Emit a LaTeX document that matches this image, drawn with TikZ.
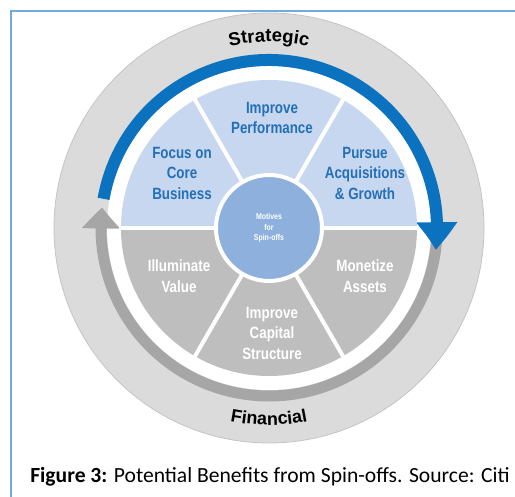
\documentclass[tikz,border=0pt]{standalone}
\usepackage{fontspec}
\setmainfont{Liberation Sans}
\newfontfamily\wheelfont{Liberation Sans}[FakeStretch=0.82]
\newfontfamily\capfont{Carlito}
\usepackage{tikz}
\usetikzlibrary{arrows.meta, bending, positioning, decorations.text}

\definecolor{ringgray}{HTML}{DBDBDB}
\definecolor{ringedge}{HTML}{C4C4C4}
\definecolor{paleblue}{HTML}{C6D7EF}
\definecolor{lblblue}{HTML}{2470B8}
\definecolor{midblue}{HTML}{8DB0DD}
\definecolor{wedgegray}{HTML}{BEBEBE}
\definecolor{arrowblue}{HTML}{0B72BF}
\definecolor{arrowgray}{HTML}{A6A6A6}
\definecolor{framecol}{HTML}{74A9E0}

\begin{document}
\begin{tikzpicture}[x=1pt, y=1pt,
    bluelbl/.style={align=center, text=lblblue, font=\wheelfont\bfseries\fontsize{16.3}{20.5}\selectfont},
    graylbl/.style={align=center, text=white, font=\wheelfont\bfseries\fontsize{16.3}{20.5}\selectfont},
    cut/.style={white, line width=4pt}]
    \useasboundingbox (-269,-269) rectangle (246,228);

    % outer ring and white inside
    \fill[ringgray, draw=ringedge, line width=0.8pt] (0,0) circle (215pt);
    \fill[white] (0,0) circle (162pt);

    % the two arrows round the wheel
    \draw[arrowgray, line width=11pt, -{Triangle[width=37pt,length=21pt,bend]}]
        (-3:168pt) arc[start angle=-3, end angle=-187, radius=168pt];
    \draw[arrowblue, line width=12pt, -{Triangle[width=39pt,length=28pt,bend]}]
        (170:168pt) arc[start angle=170, end angle=-7.5, radius=168pt];

    % pie
    \fill[paleblue] (0,0) -- (0:148pt) arc[start angle=0, end angle=180, radius=148pt] -- cycle;
    \fill[wedgegray] (0,0) -- (180:148pt) arc[start angle=180, end angle=360, radius=148pt] -- cycle;
    \draw[cut] (180:150pt) -- (0:150pt);
    \foreach \a in {60,120,240,300}
        \draw[cut] (0,0) -- (\a:150pt);

    \node[circle, fill=midblue, draw=white, line width=4pt, minimum size=106pt, align=center,
          text=white, font=\wheelfont\bfseries\fontsize{8.5}{10.5}\selectfont] (motives) at (0,0)
          {Motives\\for\\Spin-offs};

    \node[bluelbl] (perf) at (3,110) {Improve\\Performance};
    \node[bluelbl] (core) at (-87,55) {Focus on\\Core\\Business};
    \node[bluelbl] (acq) at (96,55) {Pursue\\Acquisitions\\\& Growth};
    \node[graylbl] (value) at (-90,-48) {Illuminate\\Value};
    \node[graylbl] (assets) at (96,-48) {Monetize\\Assets};
    \node[graylbl] (capital) at (3,-105) {Improve\\Capital\\Structure};

    % curved headings
    \path[decorate, decoration={text along path, text align=center,
          text={|\fontsize{18.5}{20}\selectfont\bfseries|Strategic}}]
        (150:186pt) arc[start angle=150, end angle=30, radius=186pt];
    \path[decorate, decoration={text along path, text align=center,
          text={|\fontsize{18}{20}\selectfont\bfseries|Financial}}]
        (230:197pt) arc[start angle=230, end angle=310, radius=197pt];

    \node[anchor=base, font=\capfont\fontsize{21.6}{26}\selectfont] (caption) at (1,-255)
        {\textbf{Figure 3:} Potential Benefits from Spin-offs. Source: Citi};

    % frame
    \draw[framecol, line width=2.5pt] (-258,-269) -- (-258,217) -- (246,217);
\end{tikzpicture}
\end{document}
